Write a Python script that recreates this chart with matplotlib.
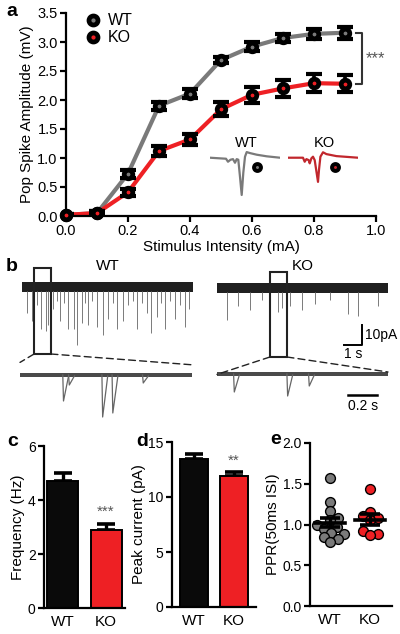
import numpy as np
import matplotlib
matplotlib.use("Agg")
from matplotlib import pyplot as plt
from matplotlib.patches import Rectangle, ConnectionPatch
from matplotlib.lines import Line2D

plt.rcParams['font.family'] = ['Liberation Sans', 'DejaVu Sans']
plt.rcParams['axes.linewidth'] = 1.6

W, H = 400, 634

# ---- panel a: input/output curve ----
intensity = [0.0, 0.1, 0.2, 0.3, 0.4, 0.5, 0.6, 0.7, 0.8, 0.9]
wt_amp = [0.02, 0.05, 0.73, 1.90, 2.11, 2.69, 2.92, 3.07, 3.14, 3.16]
wt_sem = [0.02, 0.03, 0.07, 0.07, 0.08, 0.06, 0.08, 0.07, 0.09, 0.10]
ko_amp = [0.02, 0.05, 0.41, 1.12, 1.32, 1.84, 2.09, 2.20, 2.29, 2.28]
ko_sem = [0.02, 0.03, 0.06, 0.08, 0.10, 0.12, 0.14, 0.15, 0.15, 0.15]

# example pop spike waveforms (ms, mV)
wt_wave_t = [0, 1.6, 1.8, 2.05, 2.3, 2.5, 2.67, 2.83, 3.0, 3.17, 3.33, 3.5, 3.67, 4.0, 4.67, 5.67, 7.0]
wt_wave_v = [0, -0.05, -0.2, -0.1, -0.07, -0.25, -0.07, -0.1, -0.95, -1.85, -0.75, 0.05, 0.28, 0.23, 0.15, 0.07, 0.0]
ko_wave_t = [0, 1.5, 1.67, 1.84, 2.07, 2.17, 2.34, 2.5, 2.67, 3.0, 3.1, 3.24, 3.5, 3.84, 4.84, 7.0]
ko_wave_v = [0, 0, -0.2, -0.07, -0.12, -0.28, -0.03, 0.05, -0.12, -1.2, -0.6, 0.05, 0.27, 0.18, 0.08, 0.0]

# ---- panel b: sEPSC events (s, pA) ----
wt_event_t = [0.26, 0.54, 0.85, 1.04, 1.31, 1.46, 1.74, 1.95, 2.11, 2.35, 2.57, 2.89, 3.04, 3.31,
              3.5, 3.68, 3.9, 4.15, 4.52, 4.8, 5.05, 5.26, 5.63, 5.9, 6.15, 6.37, 6.65, 6.93,
              7.15, 7.48, 7.7, 7.94, 8.2, 8.5, 8.8, 9.06, 9.3]
wt_event_amp = [13, 17, 9, 21, 22, 19, 11, 7, 17, 8, 21, 21, 29, 18,
                8, 19, 7, 20, 24, 16, 8, 21, 17, 9, 7, 21, 8, 13,
                23, 15, 8, 21, 7, 16, 9, 20, 11]
ko_event_t = [0.54, 1.18, 1.83, 2.5, 3.4, 3.6, 4.06, 4.7, 5.45, 6.3, 7.3, 7.85, 8.96]
ko_event_amp = [16, 9, 11, 6, 12, 10, 9, 11, 8, 6, 13, 14, 9]
wt_zoom_t = [0.30, 0.34, 0.57, 0.64, 0.85]
wt_zoom_amp = [13, 5, 21, 19, 4]
ko_zoom_t = [0.12, 0.49, 0.64]
ko_zoom_amp = [9, 11, 6]

# ---- panels c-e ----
groups = ['WT', 'KO']
freq_mean = [4.72, 2.90]
freq_sem = [0.28, 0.21]
peak_mean = [13.45, 11.95]
peak_sem = [0.50, 0.30]
ppr_wt = [1.57, 1.27, 1.17, 1.08, 1.05, 1.00, 0.97, 0.95, 0.90, 0.88, 0.85, 0.82, 0.79]
ppr_ko = [1.43, 1.15, 1.10, 1.08, 1.05, 0.92, 0.88, 0.87]

GRAY = '#7a7a7a'
RED = '#ee2024'
DARKRED = '#c1272d'
TICK = 10
LAB = 11

fig = plt.figure(figsize=(W / 100, H / 100), dpi=100)


def px_axes(l, t, r, b):
    return fig.add_axes([l / W, 1 - b / H, (r - l) / W, (b - t) / H])


def style(ax, size=TICK):
    ax.spines[['top', 'right']].set_visible(False)
    ax.tick_params(direction='out', length=4, width=1.6, labelsize=size, pad=2)


# ======== a ========
ax = px_axes(66, 13, 376, 216)
style(ax, 10.5)
for amp, sem, col in [(wt_amp, wt_sem, GRAY), (ko_amp, ko_sem, RED)]:
    ax.plot(intensity, amp, '-', color=col, lw=3, zorder=2)
    ax.errorbar(intensity, amp, yerr=sem, fmt='none', ecolor='k', elinewidth=2.6,
                capsize=5.5, capthick=3, zorder=3)
    ax.plot(intensity, amp, 'o', ms=6.2, mfc=col, mec='k', mew=3.4, zorder=4, clip_on=False)
ax.set_xlim(0, 1.0)
ax.set_ylim(0, 3.5)
ax.set_xticks(np.arange(0, 1.01, 0.2))
ax.set_yticks(np.arange(0, 3.51, 0.5))
ax.xaxis.set_major_formatter(matplotlib.ticker.FormatStrFormatter('%.1f'))
ax.yaxis.set_major_formatter(matplotlib.ticker.FormatStrFormatter('%.1f'))
ax.set_xlabel('Stimulus Intensity (mA)', fontsize=LAB, labelpad=1)
ax.set_ylabel('Pop Spike Amplitude (mV)', fontsize=LAB, labelpad=2)
# significance bracket
bx = 0.955
ax.plot([bx - 0.02, bx, bx, bx - 0.02], [wt_amp[-1], wt_amp[-1], ko_amp[-1], ko_amp[-1]],
        color='#333333', lw=1.5, clip_on=False)
ax.text(bx + 0.012, (wt_amp[-1] + ko_amp[-1]) / 2, '***', fontsize=12, color='#555555',
        ha='left', va='center', clip_on=False)
handles = [Line2D([], [], ls='none', marker='o', ms=6.5, mfc=c, mec='k', mew=3.4) for c in (GRAY, RED)]
ax.legend(handles, groups, loc='upper left', bbox_to_anchor=(0.035, 1.03), frameon=False,
          fontsize=11.5, handletextpad=0.35, labelspacing=0.12, borderaxespad=0, handlelength=1.2)

# inset waveforms
for (l, r), tt, vv, col, name in [((210, 280), wt_wave_t, wt_wave_v, GRAY, 'WT'),
                                  ((288, 358), ko_wave_t, ko_wave_v, DARKRED, 'KO')]:
    ai = px_axes(l, 140, r, 200)
    ai.plot(tt, vv, color=col, lw=1.6)
    ai.set_xlim(0, 7)
    ai.set_ylim(-2.1, 0.88)
    ai.axis('off')
    ai.text(3.6, 0.72, name, fontsize=10.5, ha='center', va='center')
    ai.plot([4.7], [-0.47], 'o', ms=5, mfc=col, mec='k', mew=2.8)

# ======== b ========
full_specs = [
    ('WT', (22, 265, 193, 360), 287, wt_event_t, wt_event_amp, (0.67, 1.61, -33.5, 9.5)),
    ('KO', (217, 265, 388, 360), 288, ko_event_t, ko_event_amp, (2.94, 3.89, -34.5, 8.0)),
]
zoom_specs = [
    ((20, 360, 192, 420), 375, wt_zoom_t, wt_zoom_amp, (0.96, 0.92)),
    ((217, 360, 388, 420), 374, ko_zoom_t, ko_zoom_amp, (0.76, 0.8)),
]
TDUR = 9.5
ZDUR = 172 / 145
for (name, box, y0, et, ea, rect), (zbox, zy0, zt, za, zfrac) in zip(full_specs, zoom_specs):
    l, t, r, b = box
    af = px_axes(l, t, r, b)
    af.set_xlim(0, TDUR)
    af.set_ylim(-(b - y0) / 2, (y0 - t) / 2)
    af.axis('off')
    af.fill_between([0, TDUR], -2.3, 2.3, color='#202020', lw=0)
    af.vlines(et, -2, -np.array(ea), color='#7a7a7a', lw=0.7)
    rx0, rx1, ry0, ry1 = rect
    af.add_patch(Rectangle((rx0, ry0), rx1 - rx0, ry1 - ry0, fill=False, ec='#222222',
                           lw=1.5, clip_on=False, zorder=5))
    fig.text((l + r) / 2 / W, 1 - 266 / H, name, fontsize=LAB, ha='center', va='center')

    zl, zt_, zr, zb = zbox
    az = px_axes(zl, zt_, zr, zb)
    az.set_xlim(0, ZDUR)
    az.set_ylim(-(zb - zy0) / 2, (zy0 - zt_) / 2)
    az.axis('off')
    az.fill_between([0, ZDUR], -1.0, 1.0, color='#4a4a4a', lw=0)
    for tk, ak in zip(zt, za):
        az.plot([tk - 0.005, tk, tk + 0.035], [0, -ak, -0.5], color='#666666', lw=0.9)
    for xa, xb_, fb in [(rx0, 0.0, zfrac[0]), (rx1, 1.0, zfrac[1])]:
        con = ConnectionPatch(xyA=(xa, ry0), coordsA=af.transData,
                              xyB=(xb_, fb), coordsB=az.transAxes,
                              ls=(0, (5, 3)), lw=1.0, color='#222222')
        fig.add_artist(con)
    if name == 'KO':
        # 10 pA / 1 s scale bar
        sx = (362 - l) / 18
        ys_top, ys_bot = -(325 - y0) / 2, -(345 - y0) / 2
        af.plot([sx - 1, sx, sx], [ys_bot, ys_bot, ys_top], color='k', lw=1.4, clip_on=False)
        af.text(sx + 0.15, (ys_top + ys_bot) / 2, '10pA', fontsize=10, ha='left', va='center')
        af.text(sx - 0.5, ys_bot - 1.0, '1 s', fontsize=10, ha='center', va='top')
        # 0.2 s scale bar
        zx = (349 - zl) / 145
        zy = -(395 - zy0) / 2
        az.plot([zx, zx + 0.2], [zy, zy], color='k', lw=1.8, clip_on=False)
        az.text(zx + 0.1, zy - 2.0, '0.2 s', fontsize=10, ha='center', va='top')

# ======== c & d ========
bar_specs = [
    ((44, 446, 125, 608), freq_mean, freq_sem, 'Frequency (Hz)', (0, 6), [0, 2, 4, 6],
     '***', (-0.44, 1.44), 0.72),
    ((172, 442, 256, 607), peak_mean, peak_sem, 'Peak current (pA)', (0, 15), [0, 5, 10, 15],
     '**', (-0.55, 1.55), 0.72),
]
for box, mean, sem, ylab, ylim, yt, star, xlim, bw in bar_specs:
    ax = px_axes(*box)
    style(ax)
    x = np.arange(len(groups))
    ax.bar(x, mean, width=bw, color=['#0a0a0a', RED], edgecolor='k', lw=1.4, zorder=2)
    ax.errorbar(x, mean, yerr=[[0, 0], sem], fmt='none', ecolor='k', elinewidth=2.4,
                capsize=6.5, capthick=2.6, zorder=1)
    ax.set_ylim(*ylim)
    ax.set_xlim(*xlim)
    ax.set_yticks(yt)
    ax.set_xticks(x)
    ax.set_xticklabels(groups, fontsize=LAB)
    ax.tick_params(axis='x', length=0, pad=5)
    ax.set_ylabel(ylab, fontsize=LAB, labelpad=2)
    ax.text(1, mean[1] + sem[1] + (ylim[1] - ylim[0]) * 0.03, star, fontsize=11,
            color='#555555', ha='center', va='bottom')

# ======== e ========
ax = px_axes(310, 443, 392, 606)
style(ax)
xlim = (-0.5, 1.55)
ypx, xpx, diam = 163 / 2.0, 82 / (xlim[1] - xlim[0]), 9.0


def swarm(vals):
    placed, offs = [], np.zeros(len(vals))
    for i in np.argsort(vals):
        y = vals[i] * ypx
        for k in range(0, 40):
            cand = (k // 2 + k % 2) * (1 if k % 2 else -1)
            if all((cand - px_) ** 2 + (y - py_) ** 2 >= (diam * 0.85) ** 2 for px_, py_ in placed):
                break
        placed.append((cand, y))
        offs[i] = cand / xpx
    return offs


for i, (vals, col) in enumerate([(ppr_wt, GRAY), (ppr_ko, RED)]):
    vals = np.array(vals)
    ax.scatter(i + swarm(vals), vals, s=50, c=col, edgecolors='k', linewidths=1.0,
               zorder=2, clip_on=False)
    m = vals.mean()
    se = vals.std(ddof=1) / np.sqrt(len(vals))
    ax.plot([i - 0.37, i + 0.37], [m, m], color='k', lw=2.6, zorder=3)
    ax.errorbar([i], [m], yerr=[se], fmt='none', ecolor='k', elinewidth=2.4,
                capsize=7, capthick=2.6, zorder=3)
ax.set_xlim(*xlim)
ax.set_ylim(0, 2.0)
ax.set_yticks([0, 0.5, 1.0, 1.5, 2.0])
ax.yaxis.set_major_formatter(matplotlib.ticker.FormatStrFormatter('%.1f'))
ax.set_xticks([0, 1])
ax.set_xticklabels(groups, fontsize=LAB)
ax.tick_params(axis='x', length=0, pad=5)
ax.set_ylabel('PPR(50ms ISI)', fontsize=LAB, labelpad=2)

# panel letters
for letter, (lx, ly) in zip('abcde', [(6, 12), (6, 266), (7, 441), (136, 441), (270, 440)]):
    fig.text(lx / W, 1 - ly / H, letter, fontsize=14, fontweight='bold', ha='left', va='center')

fig.savefig('out.png', dpi=100)
